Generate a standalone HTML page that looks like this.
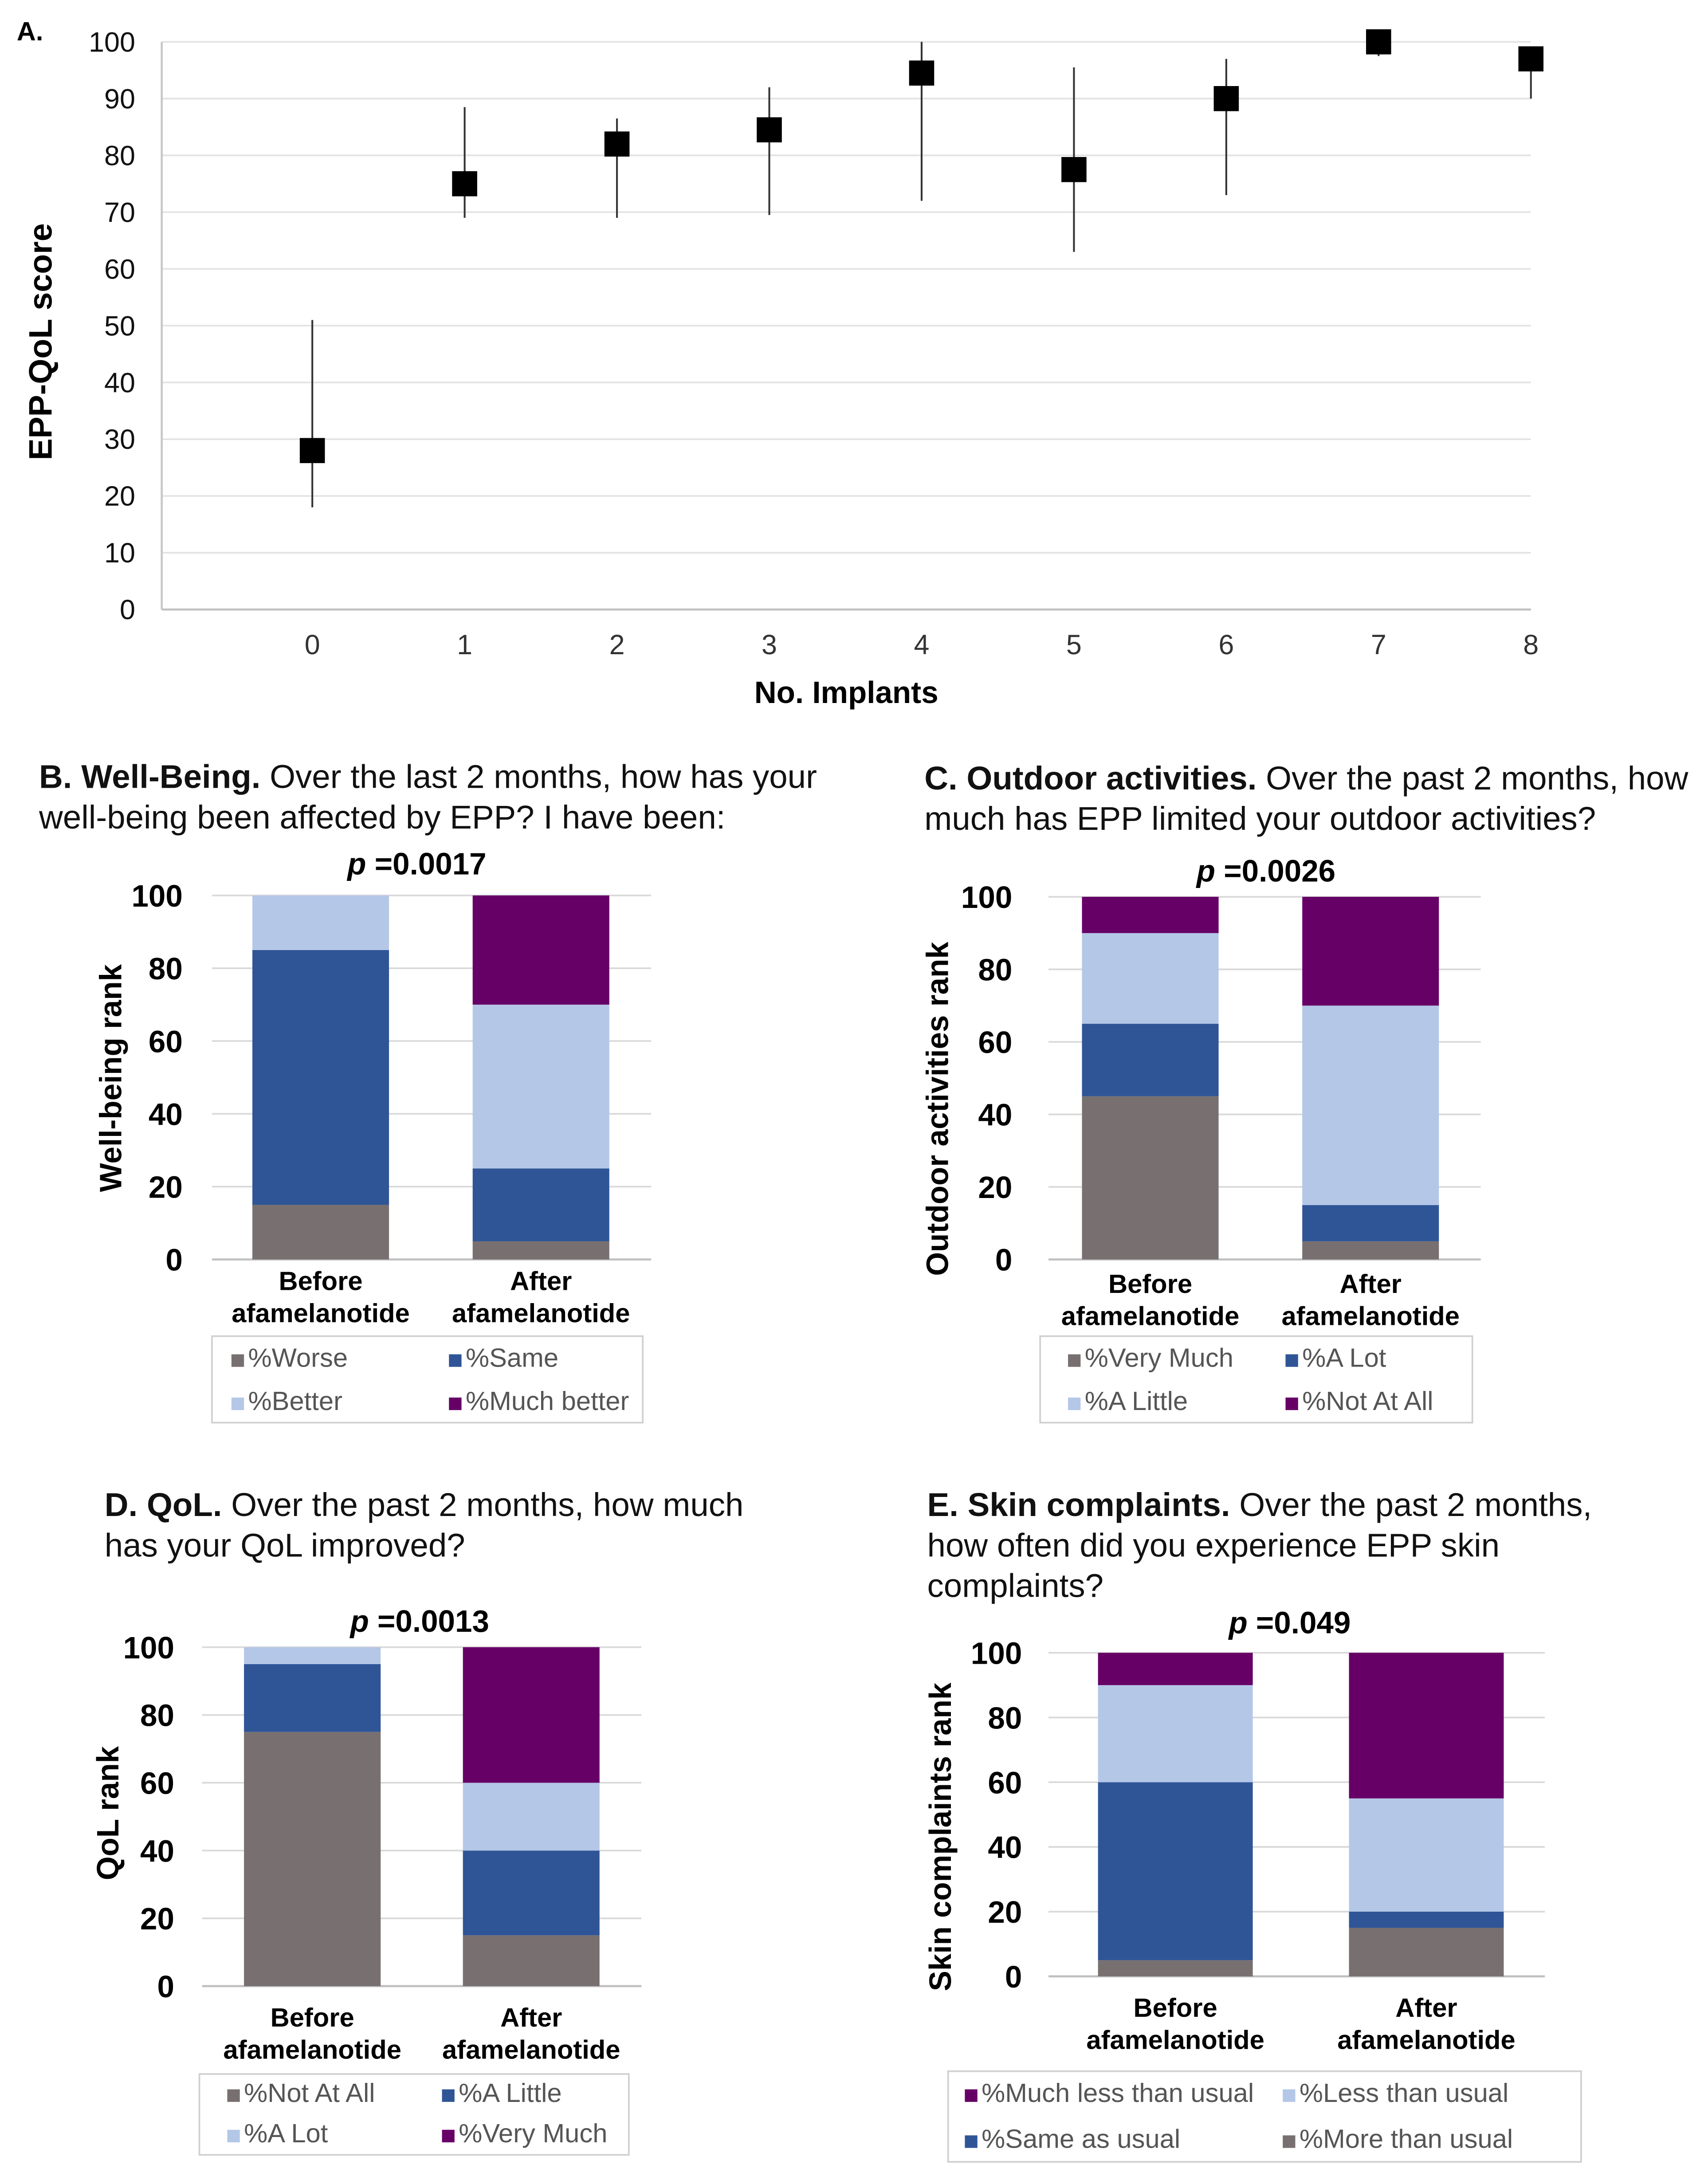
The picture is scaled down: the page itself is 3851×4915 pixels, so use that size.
<!DOCTYPE html>
<html><head><meta charset="utf-8"><style>
html,body{margin:0;padding:0;background:#fff;}
svg{display:block;font-family:"Liberation Sans",Arial,sans-serif;}
</style></head><body>
<svg id="fig" width="3851" height="4915" viewBox="0 0 1225 1563" preserveAspectRatio="none" xmlns="http://www.w3.org/2000/svg">
<rect width="1225" height="1563" fill="#fff"/>
</svg>
<script>
// Panel A data
const aCategories=["0","1","2","3","4","5","6","7","8"];
const aMeans=[28,75,82,84.5,94.5,77.5,90,100,97];
const aLow=[18,69,69,69.5,72,63,73,97.5,90];
const aHigh=[51,88.5,86.5,92,100,95.5,97,100,97.5];
const aTicks=[0,10,20,30,40,50,60,70,80,90,100];
// Panels B-E data (stack order bottom->top)
const barCats=[["Before","afamelanotide"],["After","afamelanotide"]];
const stackTicks=[0,20,40,60,80,100];
const bBefore=[15,70,15,0], bAfter=[5,20,45,30];
const cBefore=[45,20,25,10], cAfter=[5,10,55,30];
const dBefore=[75,20,5,0], dAfter=[15,25,20,40];
const eBefore=[5,55,30,10], eAfter=[15,5,35,45];
const COL=["#787070","#2f5597","#b4c7e7","#660066"];

const svg=document.getElementById('fig');
const NS="http://www.w3.org/2000/svg";
function mk(tag,attrs,parent,text){const e=document.createElementNS(NS,tag);for(const k in attrs)e.setAttribute(k,attrs[k]);if(text!==undefined)e.textContent=text;(parent||svg).appendChild(e);return e;}

// ---- Panel A ----
const gA=mk('g',{});


const ax0=116,ax1=1098,ay0=437,ay1=30;
const aY=v=>ay0-(v/100)*(ay0-ay1);
const aX=i=>224+i*(1098-224)/8;
aTicks.forEach(t=>{
  if(t>0){const l=mk('line',{x1:ax0,x2:ax1,y1:aY(t),y2:aY(t),stroke:'#e3e3e3','stroke-width':1.2},gA);
  }
  const tx=mk('text',{x:97,y:aY(t)+7,'text-anchor':'end','font-size':20,fill:'#111'},gA,t);
  
});
mk('line',{x1:ax0,x2:ax0,y1:ay1,y2:ay0,stroke:'#c8c8c8','stroke-width':1.5},gA);
const axl=mk('line',{x1:ax0,x2:ax1,y1:ay0,y2:ay0,stroke:'#c0c0c0','stroke-width':1.5},gA);

aCategories.forEach((c,i)=>{
  const tx=mk('text',{x:aX(i),y:469,'text-anchor':'middle','font-size':20,fill:'#333'},gA,c);
  
  const eb=mk('line',{x1:aX(i),x2:aX(i),y1:aY(aLow[i]),y2:aY(aHigh[i]),stroke:'#333','stroke-width':1.3},gA);
  
  const m=mk('rect',{x:aX(i)-9,y:aY(aMeans[i])-9,width:18,height:18,fill:'#000'},gA);
  
});
let t1=mk('text',{x:12,y:29,'font-size':19,'font-weight':'bold'},gA,'A.');

t1=mk('text',{x:0,y:0,'font-size':23.4,'font-weight':'bold',transform:'translate(37,245) rotate(-90)','text-anchor':'middle'},gA,'EPP-QoL score');

t1=mk('text',{x:607,y:504,'font-size':22,'font-weight':'bold','text-anchor':'middle'},gA,'No. Implants');


// ---- Stacked panels ----
function panel(cfg){
  const g=mk('g',{});
  
  
  const Y=v=>cfg.y0-(v/100)*(cfg.y0-cfg.y100);
  cfg.title.forEach((ln,i)=>{
    const t=mk('text',{x:cfg.tx,y:cfg.ty+i*29,'font-size':23.7,fill:'#111'},g);
    
    if(i===0){mk('tspan',{'font-weight':'bold'},t,ln[0]);mk('tspan',{},t,ln[1]);}
    else t.textContent=ln;
  });
  const p=mk('text',{x:cfg.px,y:cfg.py,'font-size':22,'font-weight':'bold','text-anchor':'middle'},g);
  
  mk('tspan',{'font-style':'italic'},p,'p');mk('tspan',{},p,' =' + cfg.p);
  stackTicks.forEach(t=>{
    if(t>0){const l=mk('line',{x1:cfg.gx0,x2:cfg.gx1,y1:Y(t),y2:Y(t),stroke:'#d9d9d9','stroke-width':1.2},g);
    }
    const tx=mk('text',{x:cfg.tickX,y:Y(t)+8,'text-anchor':'end','font-size':22,'font-weight':'bold'},g,t);
    
  });
  const ax=mk('line',{x1:cfg.gx0,x2:cfg.gx1,y1:cfg.y0,y2:cfg.y0,stroke:'#bfbfbf','stroke-width':1.5},g);
  
  const at=mk('text',{x:0,y:0,'font-size':22,'font-weight':'bold','text-anchor':'middle',transform:`translate(${cfg.atx},${cfg.aty}) rotate(-90)`},g,cfg.axisTitle);
  
  [cfg.before,cfg.after].forEach((vals,bi)=>{
    const cx=cfg.centers[bi];let acc=0;
    vals.forEach((v,si)=>{
      if(v<=0){acc+=v;return;}
      const r=mk('rect',{x:cx-cfg.bw/2,y:Y(acc+v),width:cfg.bw,height:Y(acc)-Y(acc+v),fill:COL[si]},g);
      
      
      acc+=v;
    });
    barCats[bi].forEach((ln,li)=>{
      const t=mk('text',{x:cx,y:cfg.cy+li*23,'text-anchor':'middle','font-size':19,'font-weight':'bold'},g,ln);
      
    });
  });
  const L=cfg.leg;
  const box=mk('rect',{x:L.x,y:L.y,width:L.w,height:L.h,fill:'#fff',stroke:'#d0d0d0','stroke-width':1.2},g);
  
  L.order.forEach((si,k)=>{
    const col=k%2,row=Math.floor(k/2);
    const lx=L.x+L.c[col],ly=L.y+L.r[row];
    const gi=mk('g',{},g);
    
    
    mk('rect',{x:lx,y:ly-9,width:9,height:9,fill:COL[si]},gi);
    mk('text',{x:lx+12,y:ly,'font-size':19,fill:'#555'},gi,'%'+cfg.series[si]);
  });
}
panel({name:'panel-b-chart',title:[['B. Well-Being.',' Over the last 2 months, how has your'],'well-being been affected by EPP? I have been:'],tx:28,ty:565,
  p:'0.0017',px:299,py:627,y0:903,y100:642,gx0:152,gx1:467,tickX:131,atx:87,aty:773,axisTitle:'Well-being rank',
  before:bBefore,after:bAfter,centers:[230,388],bw:98,cy:925,series:['Worse','Same','Better','Much better'],
  leg:{x:152,y:958,w:309,h:62,c:[14,170],r:[22,53],order:[0,1,2,3]}});
panel({name:'panel-c-chart',title:[['C. Outdoor activities.',' Over the past 2 months, how'],'much has EPP limited your outdoor activities?'],tx:663,ty:566,
  p:'0.0026',px:908,py:632,y0:903,y100:643,gx0:752,gx1:1062,tickX:726,atx:680,aty:795,axisTitle:'Outdoor activities rank',
  before:cBefore,after:cAfter,centers:[825,983],bw:98,cy:927,series:['Very Much','A Lot','A Little','Not At All'],
  leg:{x:746,y:958,w:310,h:62,c:[20,176],r:[22,53],order:[0,1,2,3]}});
panel({name:'panel-d-chart',title:[['D. QoL.',' Over the past 2 months, how much'],'has your QoL improved?'],tx:75,ty:1087,
  p:'0.0013',px:301,py:1170,y0:1424,y100:1181,gx0:145,gx1:460,tickX:125,atx:85,aty:1300,axisTitle:'QoL rank',
  before:dBefore,after:dAfter,centers:[224,381],bw:98,cy:1453,series:['Not At All','A Little','A Lot','Very Much'],
  leg:{x:143,y:1487,w:308,h:58,c:[20,174],r:[20,49],order:[0,1,2,3]}});
panel({name:'panel-e-chart',title:[['E. Skin complaints.',' Over the past 2 months,'],'how often did you experience EPP skin','complaints?'],tx:665,ty:1087,
  p:'0.049',px:925,py:1171,y0:1417,y100:1185,gx0:752,gx1:1108,tickX:733,atx:682,aty:1317,axisTitle:'Skin complaints rank',
  before:eBefore,after:eAfter,centers:[843,1023],bw:111,cy:1446,series:['More than usual','Same as usual','Less than usual','Much less than usual'],
  leg:{x:680,y:1485,w:454,h:65,c:[12,240],r:[22,55],order:[3,2,1,0]}});
</script>
</body></html>
